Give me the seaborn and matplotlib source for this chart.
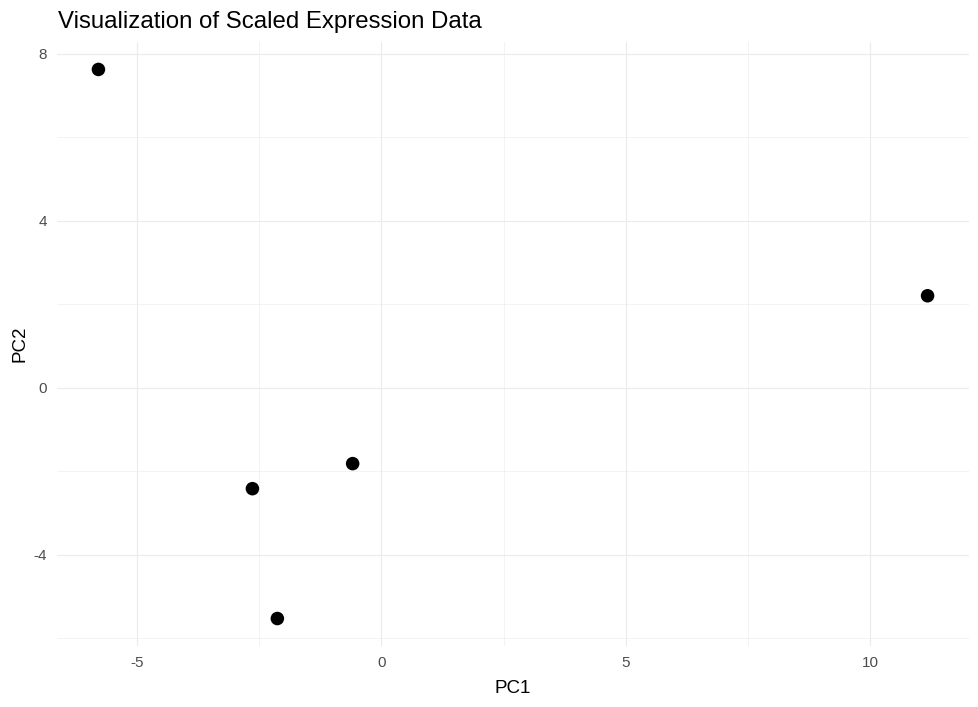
import matplotlib
matplotlib.use("Agg")
import matplotlib.pyplot as plt
import seaborn as sns
import pandas as pd
from matplotlib.ticker import FixedLocator

pc1 = [-5.79, 11.17, -0.59, -2.64, -2.13]
pc2 = [7.62, 2.20, -1.82, -2.42, -5.53]
x_ticks = [-5, 0, 5, 10]
y_ticks = [-4, 0, 4, 8]
x_minor = [-2.5, 2.5, 7.5]
y_minor = [-6, -2, 2, 6]

df = pd.DataFrame({"PC1": pc1, "PC2": pc2})

sns.set_theme(style="white")
plt.rcParams["font.family"] = ["Liberation Sans", "DejaVu Sans"]

fig = plt.figure(figsize=(9.79, 7.07), dpi=100)
ax = fig.add_axes([0.0582, 0.0863, 0.9898 - 0.0582, 0.9406 - 0.0863])

sns.scatterplot(data=df, x="PC1", y="PC2", ax=ax, color="black", s=95,
                edgecolor="none", linewidth=0, zorder=3)

xr = max(pc1) - min(pc1)
yr = max(pc2) - min(pc2)
ax.set_xlim(min(pc1) - 0.05 * xr, max(pc1) + 0.05 * xr)
ax.set_ylim(min(pc2) - 0.05 * yr, max(pc2) + 0.05 * yr)

ax.xaxis.set_major_locator(FixedLocator(x_ticks))
ax.yaxis.set_major_locator(FixedLocator(y_ticks))
ax.xaxis.set_minor_locator(FixedLocator(x_minor))
ax.yaxis.set_minor_locator(FixedLocator(y_minor))
ax.grid(which="major", color="#EBEBEB", linewidth=0.8, zorder=0)
ax.grid(which="minor", color="#EBEBEB", linewidth=0.4, zorder=0)
ax.set_axisbelow(True)
for s in ax.spines.values():
    s.set_visible(False)
ax.tick_params(which="both", length=0, labelsize=11, labelcolor="#4D4D4D")
ax.tick_params(axis="x", pad=7)
ax.tick_params(axis="y", pad=7)
ax.set_xticklabels([str(t) for t in x_ticks])
ax.set_yticklabels([str(t) for t in y_ticks])

ax.set_xlabel("PC1", fontsize=13.5, color="black", labelpad=7.5)
ax.set_ylabel("PC2", fontsize=13.5, color="black", labelpad=4)
fig.text(0.0592, 0.969, "Visualization of Scaled Expression Data", fontsize=17.3,
         color="black", ha="left", va="center")

fig.savefig("out.png", dpi=100, facecolor="white")
